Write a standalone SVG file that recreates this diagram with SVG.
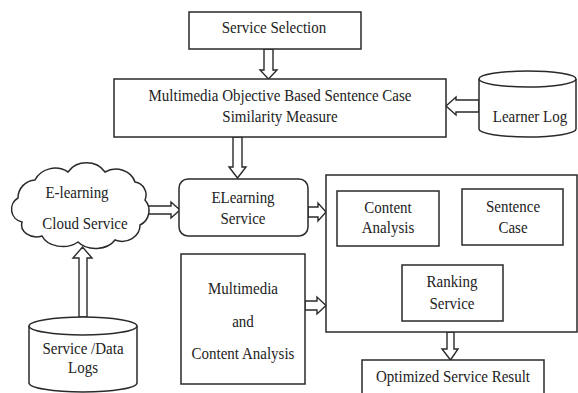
<svg xmlns="http://www.w3.org/2000/svg" width="578" height="393" viewBox="0 0 578 393">
<style>
.b{fill:#fff;stroke:#2a2a2a;stroke-width:1.5}
.a{fill:#fff;stroke:#2a2a2a;stroke-width:1.4;stroke-linejoin:miter}
text{font-family:"Liberation Serif","Times New Roman",serif;font-size:15px;fill:#222;text-anchor:middle;transform-box:fill-box;transform-origin:center;transform:scale(1,1.1)}
</style>
<rect width="578" height="393" fill="#fff"/>
<g id="connectors">
<polygon class="a" points="264,49 273,49 273,70 277,70 268.5,79 260,70 264,70"/>
<polygon class="a" points="233,137 242,137 242,167 246,167 237.5,178 229,167 233,167"/>
<polygon class="a" points="479,100 456,100 456,97 446,106 456,115 456,112 479,112"/>
<polygon class="a" points="146,206 171,206 171,202 180,210 171,218 171,214 146,214"/>
<polygon class="a" points="308,207 318,207 318,203 326,212 318,221 318,217 308,217"/>
<polygon class="a" points="305,301 317,301 317,297 326,305.5 317,314 317,310 305,310"/>
<polygon class="a" points="79,317 79,258 73,258 82.5,247 92,258 87,258 87,317"/>
<polygon class="a" points="447,332 454,332 454,349 458,349 450.5,360 442,349 447,349"/>
</g>
<g id="service-selection">
<rect class="b" x="189" y="12" width="172" height="37"/>
<text x="274" y="32">Service Selection</text>
</g>
<g id="similarity-measure">
<rect class="b" x="114" y="79" width="332" height="58"/>
<text x="280" y="101">Multimedia Objective Based Sentence Case</text>
<text x="280" y="122">Similarity Measure</text>
</g>
<g id="learner-log">
<path class="b" d="M479,79 L479,129 A48.5,8 0 0 0 576,129 L576,79 A48.5,8 0 0 0 479,79 Z"/>
<path class="b" d="M479,79 A48.5,8 0 0 0 576,79" fill="none"/>
<text x="530" y="122">Learner Log</text>
</g>
<g id="cloud-service">
<path class="b" d="M22,222 A13,13 0 0 1 18,198 A18,18 0 0 1 35,180 A22,20 0 0 1 68,172 A22,20 0 0 1 105,172 A20,18 0 0 1 135,182 A13,13 0 0 1 145,200 A16,16 0 0 1 140,225 A18,16 0 0 1 115,240 A22,16 0 0 1 78,242 A22,16 0 0 1 42,236 A15,12 0 0 1 22,222 Z"/>
<text x="77" y="198">E-learning</text>
<text x="85" y="228">Cloud Service</text>
</g>
<g id="elearning-service">
<rect class="b" x="179" y="179" width="129" height="57" rx="9"/>
<text x="243" y="203">ELearning</text>
<text x="243" y="223">Service</text>
</g>
<g id="multimedia-content">
<rect class="b" x="181" y="254" width="124" height="130"/>
<text x="243" y="293">Multimedia</text>
<text x="243" y="326">and</text>
<text x="243" y="359">Content Analysis</text>
</g>
<g id="service-data-logs">
<path class="b" d="M29,326 L29,383 A54,9 0 0 0 137,383 L137,326 A54,9 0 0 0 29,326 Z"/>
<path class="b" d="M29,326 A54,9 0 0 0 137,326" fill="none"/>
<text x="83" y="353">Service /Data</text>
<text x="83" y="373">Logs</text>
</g>
<g id="processing-block">
<rect class="b" x="326" y="175" width="251" height="157"/>
</g>
<g id="content-analysis">
<rect class="b" x="337" y="191" width="102" height="55"/>
<text x="388" y="212">Content</text>
<text x="388" y="233">Analysis</text>
</g>
<g id="sentence-case">
<rect class="b" x="462" y="189" width="101" height="56"/>
<text x="513" y="211">Sentence</text>
<text x="513" y="232">Case</text>
</g>
<g id="ranking-service">
<rect class="b" x="402" y="265" width="101" height="56"/>
<text x="452" y="287">Ranking</text>
<text x="452" y="308">Service</text>
</g>
<g id="optimized-result">
<rect class="b" x="362" y="360" width="182" height="45"/>
<text x="453" y="382">Optimized Service Result</text>
</g>
</svg>
